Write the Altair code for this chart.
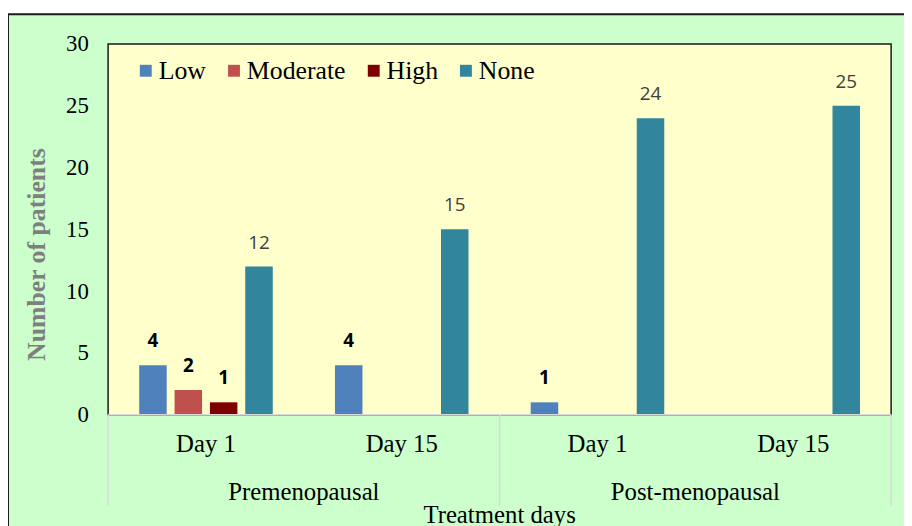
import altair as alt
import pandas as pd

# ---- data ----
groups = ["Premenopausal", "Premenopausal", "Post-menopausal", "Post-menopausal"]
days = ["Day 1", "Day 15", "Day 1", "Day 15"]
series = ["Low", "Moderate", "High", "None"]
low = [4, 4, 1, 0]
moderate = [2, 0, 0, 0]
high = [1, 0, 0, 0]
none = [12, 15, 24, 25]
colors = ["#4F81BD", "#C0504D", "#7F0000", "#31859C"]
y_ticks = [0, 5, 10, 15, 20, 25, 30]

W, H = 790, 374

cats = [f"{g}|{d}" for g, d in zip(groups, days)]
rows = []
for name, vals in zip(series, [low, moderate, high, none]):
    for c, g, d, v in zip(cats, groups, days, vals):
        rows.append({"cat": c, "group": g, "day": d, "series": name, "value": v})
df = pd.DataFrame(rows)
cat_df = pd.DataFrame({"cat": cats, "day": days})
grp_order = ["Premenopausal", "Post-menopausal"]
grp_df = pd.DataFrame({"group": grp_order})
one = pd.DataFrame({"a": [0]})

xscale = alt.Scale(domain=cats, paddingInner=0, paddingOuter=0)
xoff_scale = alt.Scale(domain=series, paddingInner=0.222, paddingOuter=0.88)
gscale = alt.Scale(domain=grp_order, paddingInner=0, paddingOuter=0)
yscale = alt.Scale(domain=[0, 30], nice=False)

serif = "Liberation Serif"

frame = alt.Chart(one).mark_rect(fill="#CCFFCC", stroke="#1a1a1a", strokeWidth=2).encode(
    x=alt.value(-101), x2=alt.value(W + 40), y=alt.value(-30), y2=alt.value(H + 200)
)
plot_bg = alt.Chart(one).mark_rect(fill="#FFFFCC", stroke="#1a1a1a", strokeWidth=1.5).encode(
    x=alt.value(0), x2=alt.value(W), y=alt.value(0), y2=alt.value(H)
)

bars = alt.Chart(df).transform_filter("datum.value > 0").mark_bar().encode(
    x=alt.X("cat:N", scale=xscale, axis=None),
    xOffset=alt.XOffset("series:N", scale=xoff_scale),
    y=alt.Y(
        "value:Q",
        scale=yscale,
        axis=alt.Axis(
            values=y_ticks,
            ticks=False,
            domain=False,
            grid=False,
            zindex=2,
            labelFont=serif,
            labelFontSize=23,
            labelColor="black",
            labelPadding=20,
            title="Number of patients",
            titleFont=serif,
            titleFontSize=26,
            titleFontWeight="bold",
            titleColor="#7F7F7F",
            titlePadding=16,
            titleY=212,
        ),
    ),
    color=alt.Color(
        "series:N",
        scale=alt.Scale(domain=series, range=colors),
        legend=alt.Legend(
            title=None,
            orient="none",
            legendX=25,
            legendY=14,
            direction="horizontal",
            symbolType="square",
            symbolSize=144,
            symbolStrokeWidth=0,
            labelFont=serif,
            labelFontSize=26,
            labelColor="black",
            labelOffset=0,
            columnPadding=15,
            padding=0,
        ),
    ),
)

axis_line = alt.Chart(one).mark_rule(color="#D9D9D9", strokeWidth=1.5).encode(
    x=alt.value(0), x2=alt.value(W), y=alt.value(H)
)

small_labels = alt.Chart(df).transform_filter(
    "datum.value > 0 && datum.series != 'None'"
).mark_text(font="Open Sans", fontSize=19, fontWeight="bold", color="black", baseline="middle", dy=-24).encode(
    x=alt.X("cat:N", scale=xscale, axis=None),
    xOffset=alt.XOffset("series:N", scale=xoff_scale),
    y=alt.Y("value:Q", scale=yscale),
    text="value:Q",
)
none_labels = alt.Chart(df).transform_filter(
    "datum.value > 0 && datum.series == 'None'"
).mark_text(font="Open Sans", fontSize=19, color="#404040", baseline="middle", dy=-24).encode(
    x=alt.X("cat:N", scale=xscale, axis=None),
    xOffset=alt.XOffset("series:N", scale=xoff_scale),
    y=alt.Y("value:Q", scale=yscale),
    text="value:Q",
)

day_labels = alt.Chart(cat_df).mark_text(font=serif, fontSize=25, color="black", baseline="middle").encode(
    x=alt.X("cat:N", scale=xscale, axis=None),
    y=alt.value(H + 30),
    text="day:N",
)

seps = alt.Chart(grp_df).mark_rule(color="#D9D9D9", strokeWidth=1.5).encode(
    x=alt.X("group:N", scale=gscale, axis=None, bandPosition=0),
    y=alt.value(H),
    y2=alt.value(H + 92),
)
sep_right = alt.Chart(one).mark_rule(color="#D9D9D9", strokeWidth=1.5).encode(
    x=alt.value(W), y=alt.value(H), y2=alt.value(H + 92)
)
grp_labels = alt.Chart(grp_df).mark_text(font=serif, fontSize=25, color="black", baseline="middle").encode(
    x=alt.X("group:N", scale=gscale, axis=None),
    y=alt.value(H + 78),
    text="group:N",
)
x_title = alt.Chart(one).mark_text(font=serif, fontSize=25, color="black", baseline="middle").encode(
    x=alt.value(W / 2), y=alt.value(H + 101), text=alt.value("Treatment days")
)

chart = alt.layer(
    frame, plot_bg, bars, axis_line, small_labels, none_labels, day_labels,
    seps, sep_right, grp_labels, x_title
).resolve_scale(x="independent").properties(
    width=W,
    height=H,
    autosize=alt.AutoSizeParams(type="none"),
    padding={"left": 101, "top": 34, "right": 13, "bottom": 110},
).configure(background="white").configure_view(stroke=None)

chart.save("out.html", embed_options={"renderer": "svg", "actions": False})
